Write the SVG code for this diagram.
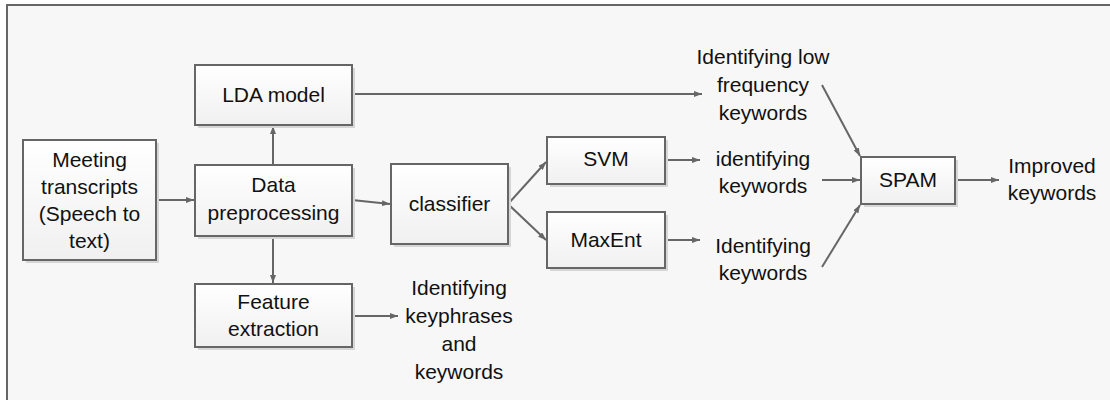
<svg xmlns="http://www.w3.org/2000/svg" width="1110" height="400" viewBox="0 0 1110 400">
<style>
.box{fill:url(#g);stroke:#666;stroke-width:2}
.sh{fill:#d6d6d6}
.t{font-family:"Liberation Sans",Arial,sans-serif;font-size:21px;fill:#111;text-anchor:middle}
.c{fill:none;stroke:#666;stroke-width:2;marker-end:url(#a)}
</style>
<defs>
<linearGradient id="g" x1="0" y1="0" x2="0" y2="1"><stop offset="0" stop-color="#ffffff"/><stop offset="1" stop-color="#f0f0f0"/></linearGradient>
<marker id="a" viewBox="0 0 8 6" refX="8" refY="3" markerWidth="4" markerHeight="3" orient="auto" markerUnits="strokeWidth"><path d="M0,0 L8,3 L0,6 z" fill="#666"/></marker>
</defs>
<rect x="0" y="0" width="1110" height="400" fill="#ffffff"/>
<rect x="7" y="5" width="1110" height="400" fill="#f7f7f7" stroke="#666" stroke-width="2"/>

<g id="connectors">
<path class="c" d="M273,165 V126"/>
<path class="c" d="M273,236 V283"/>
<path class="c" d="M156,200 H194"/>
<path class="c" d="M352,200 L390,204"/>
<path class="c" d="M508,204 L546,162"/>
<path class="c" d="M508,204 L546,240"/>
<path class="c" d="M352,94 H702"/>
<path class="c" d="M665,160 H700"/>
<path class="c" d="M665,240 H700"/>
<path class="c" d="M352,316 H398"/>
<path class="c" d="M822,85 L860,156"/>
<path class="c" d="M822,180 H860"/>
<path class="c" d="M822,267 L860,205"/>
<path class="c" d="M955,180 H999"/>
</g>

<g id="meeting">
<rect class="sh" x="26" y="143" width="133" height="120"/>
<rect class="box" x="23" y="140" width="133" height="120"/>
<text class="t" x="89.5" y="167">Meeting</text>
<text class="t" x="89.5" y="194">transcripts</text>
<text class="t" x="89.5" y="221">(Speech to</text>
<text class="t" x="89.5" y="248">text)</text>
</g>

<g id="lda">
<rect class="sh" x="198" y="68" width="157" height="60"/>
<rect class="box" x="195" y="65" width="157" height="60"/>
<text class="t" x="273.5" y="102">LDA model</text>
</g>

<g id="data">
<rect class="sh" x="198" y="168" width="157" height="71"/>
<rect class="box" x="195" y="165" width="157" height="71"/>
<text class="t" x="273.5" y="192">Data</text>
<text class="t" x="273.5" y="220">preprocessing</text>
</g>

<g id="feature">
<rect class="sh" x="198" y="287" width="157" height="63"/>
<rect class="box" x="195" y="284" width="157" height="63"/>
<text class="t" x="273.5" y="309">Feature</text>
<text class="t" x="273.5" y="336">extraction</text>
</g>

<g id="classifier">
<rect class="sh" x="394" y="167" width="117" height="80"/>
<rect class="box" x="391" y="164" width="117" height="80"/>
<text class="t" x="449.5" y="211">classifier</text>
</g>

<g id="svm">
<rect class="sh" x="550" y="140" width="118" height="47"/>
<rect class="box" x="547" y="137" width="118" height="47"/>
<text class="t" x="606" y="166">SVM</text>
</g>

<g id="maxent">
<rect class="sh" x="550" y="215" width="118" height="56"/>
<rect class="box" x="547" y="212" width="118" height="56"/>
<text class="t" x="606" y="247">MaxEnt</text>
</g>

<g id="spam">
<rect class="sh" x="864" y="160" width="94" height="47"/>
<rect class="box" x="861" y="157" width="94" height="47"/>
<text class="t" x="908" y="187">SPAM</text>
</g>

<g id="label-lowfreq">
<text class="t" x="763" y="64">Identifying low</text>
<text class="t" x="763" y="92">frequency</text>
<text class="t" x="763" y="120">keywords</text>
</g>
<g id="label-svm">
<text class="t" x="763" y="166">identifying</text>
<text class="t" x="763" y="193">keywords</text>
</g>
<g id="label-maxent">
<text class="t" x="763" y="253">Identifying</text>
<text class="t" x="763" y="280">keywords</text>
</g>
<g id="label-feature">
<text class="t" x="459" y="295">Identifying</text>
<text class="t" x="459" y="323">keyphrases</text>
<text class="t" x="459" y="351">and</text>
<text class="t" x="459" y="379">keywords</text>
</g>
<g id="label-improved">
<text class="t" x="1052" y="173">Improved</text>
<text class="t" x="1052" y="200">keywords</text>
</g>
</svg>
